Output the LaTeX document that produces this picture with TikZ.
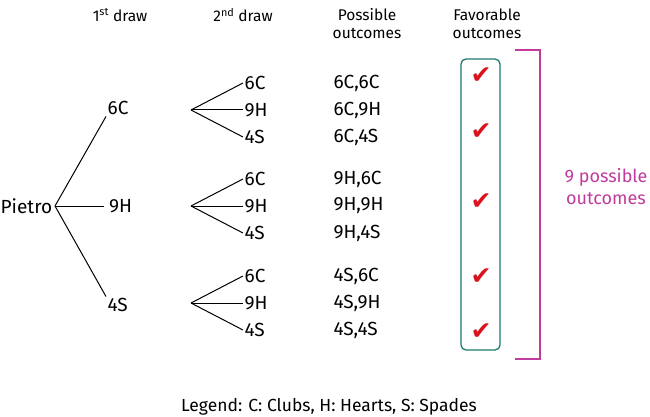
\documentclass[tikz,border=0pt]{standalone}
\usepackage{fontspec}
\setmainfont{Fira Sans}
\newfontfamily\symbolfont{DejaVu Sans}
\usepackage{xcolor}
\usepackage{tikz}
\usetikzlibrary{positioning}
\definecolor{boxteal}{HTML}{1B7A6E}
\definecolor{bracketpink}{HTML}{C03B9B}
\definecolor{checkred}{HTML}{D9141C}
\tikzstyle{header} = [font=\fontsize{15.5}{18}\selectfont, align=center]
\tikzstyle{card} = [font=\fontsize{19}{22}\selectfont, inner sep=1.5pt, anchor=west]
\tikzstyle{outcome} = [font=\fontsize{19}{22}\selectfont, anchor=west]
\tikzstyle{branch} = [line width=1pt]
\tikzstyle{check} = [font=\symbolfont\fontsize{25}{25}\selectfont, text=checkred, inner sep=0pt]
\tikzstyle{favbox} = [draw=boxteal, line width=1.3pt, rounded corners=5pt, minimum width=39pt, minimum height=291pt, inner sep=0pt]

\begin{document}
\begin{tikzpicture}[x=1pt, y=-1pt]
	\useasboundingbox (0,0) rectangle (650,417);
	% column headers
	\node [header] (h1) at (120,15) {1\textsuperscript{st} draw};
	\node [header] (h2) at (243,15) {2\textsuperscript{nd} draw};
	\node [header] (h3) at (367,24) {Possible\\outcomes};
	\node [header] (h4) at (487,24) {Favorable\\outcomes};

	% first draw
	\node [card, inner sep=0.5pt] (pietro) at (0,206) {Pietro};
	\coordinate (root) at (55,206);
	\node [card] (c1) at (106,108) {6C};
	\node [card, inner sep=5pt] (c2) at (104,206) {9H};
	\node [card] (c3) at (106,305) {4S};
	\draw[branch] (root) -- (c1.south west);
	\draw[branch] (root) -- (c2.west);
	\draw[branch] (root) -- (c3.north west);

	% second draw and outcomes
	\foreach \g/\first/\y in {1/6C/110, 2/9H/206, 3/4S/303} {
		\coordinate (f\g) at (191,\y);
		\node [card] (l\g a) at (243,\y-27) {6C};
		\node [card] (l\g b) at (243,\y) {9H};
		\node [card] (l\g c) at (243,\y+27) {4S};
		\draw[branch] (f\g) -- (l\g a.west);
		\draw[branch] (f\g) -- (l\g b.west);
		\draw[branch] (f\g) -- (l\g c.west);
		\node [outcome] (o\g a) at (330,\y-27) {\first,6C};
		\node [outcome] (o\g b) at (330,\y) {\first,9H};
		\node [outcome] (o\g c) at (330,\y+27) {\first,4S};
	}

	% favorable outcomes
	\node [favbox] (fav) at (480.5,204.5) {};
	\node [check] (k1) at (481,76) {✔};
	\node [check] (k2) at (481,132) {✔};
	\node [check] (k3) at (481,202) {✔};
	\node [check] (k4) at (481,277) {✔};
	\node [check] (k5) at (481,332) {✔};

	% bracket
	\coordinate (b1) at (515,50);
	\coordinate (b2) at (540,50);
	\coordinate (b3) at (540,359);
	\coordinate (b4) at (515,359);
	\draw[bracketpink, line width=1.1pt] (b1) -- (b2) -- (b3) -- (b4);
	\node [header, text=bracketpink, font=\fontsize{18}{22}\selectfont] (total) at (606,187) {9 possible\\outcomes};

	\node [header, font=\fontsize{17.5}{20}\selectfont] (legend) at (329,407) {Legend: C: Clubs, H: Hearts, S: Spades};
\end{tikzpicture}
\end{document}
